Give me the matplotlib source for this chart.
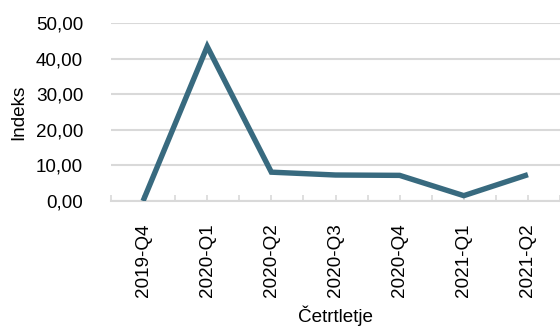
import matplotlib
matplotlib.use('Agg')
import matplotlib.pyplot as plt
from matplotlib.ticker import FuncFormatter, MultipleLocator

plt.rcParams['font.family'] = ['Liberation Sans', 'DejaVu Sans']

# Quarterly index values
quarters = ['2019-Q4', '2020-Q1', '2020-Q2', '2020-Q3', '2020-Q4', '2021-Q1', '2021-Q2']
index_values = [0.0, 43.4, 8.1, 7.3, 7.2, 1.5, 7.4]

LINE_COLOR = '#386a7f'
GRID_COLOR = '#d9d9d9'
FS = 13.6

fig = plt.figure(figsize=(5.6, 3.28), dpi=100)
ax = fig.add_axes([111 / 560, 1 - 201 / 328, 449 / 560, 178 / 328])

x = list(range(len(quarters)))
ax.plot(x, index_values, color=LINE_COLOR, linewidth=3.9, solid_joinstyle='miter',
        solid_capstyle='butt', zorder=3)

ax.set_xlim(-0.5, len(quarters) - 0.5)
ax.set_ylim(0, 50)
ax.yaxis.set_major_locator(MultipleLocator(10))
ax.yaxis.set_major_formatter(FuncFormatter(lambda v, _: f'{v:.2f}'.replace('.', ',')))

ax.set_xticks(x)
ax.set_xticklabels(quarters, rotation=90)
ax.set_xticks([i - 0.5 for i in range(len(quarters) + 1)], minor=True)

ax.grid(axis='y', color=GRID_COLOR, linewidth=1.5)
ax.set_axisbelow(True)
for side in ('top', 'right', 'left'):
    ax.spines[side].set_visible(False)
ax.spines['bottom'].set_color(GRID_COLOR)
ax.spines['bottom'].set_linewidth(1.5)

ax.tick_params(axis='y', length=0, pad=20, labelsize=FS, colors='black')
ax.tick_params(axis='x', which='both', direction='in', length=4, width=1.2,
               color=GRID_COLOR, pad=16, labelsize=FS)

ax.set_ylabel('Indeks', fontsize=FS, labelpad=6)
ax.set_xlabel('Četrtletje', fontsize=FS, labelpad=6)

fig.savefig('out.png', dpi=100)
